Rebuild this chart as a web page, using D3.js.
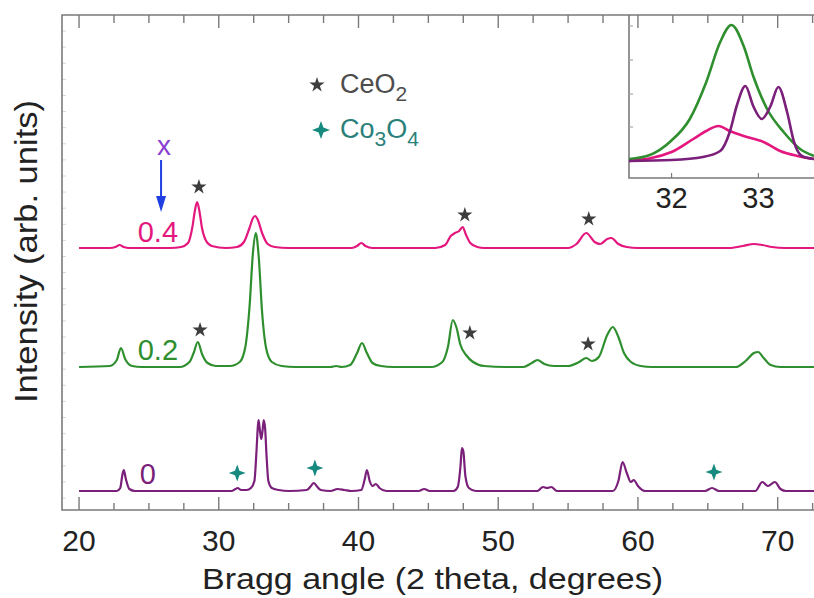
<!DOCTYPE html>
<html>
<head>
<meta charset="utf-8">
<script src="https://cdn.jsdelivr.net/npm/d3@7/dist/d3.min.js"></script>
<style>
  html, body { margin: 0; padding: 0; background: #fff; }
  svg { display: block; font-family: "Liberation Sans", Arial, sans-serif; }
</style>
</head>
<body>
<svg id="chart" width="814" height="598"></svg>
<script>
// XRD patterns: [2 theta (deg), intensity above each pattern's own baseline]
const pattern04 = [
  [20,0],[22.2,0],[22.6,1],[22.9,3],[23.2,1],[23.6,0],[26.5,0],[27.3,1],[27.8,5],[28.1,20],[28.3,38],[28.45,46],
  [28.6,38],[28.8,20],[29.1,7],[29.5,2],[30.5,0],[31.3,1],[31.8,6],[32.2,20],[32.45,30],[32.6,32],[32.8,28],
  [33.1,15],[33.5,4],[34.0,1],[35,0],[39.5,0],[39.9,2],[40.2,5],[40.5,2],[41,0],[45.5,0],[46.2,3],[46.6,12],
  [46.9,15],[47.2,17],[47.45,21],[47.7,13],[48,5],[48.5,1],[49,0],[55,0],[55.6,4],[56.3,15],[56.9,6],[57.3,4],
  [57.8,9],[58.1,10],[58.6,4],[59.2,1],[60,0],[66.5,0],[67.5,2],[68.3,4],[68.9,3],[69.6,1],[70.5,0],[72.6,0]
];
const pattern02 = [
  [20,0],[22.2,1],[22.7,7],[23.0,19],[23.3,8],[23.8,1],[24.5,0],[27.2,0],[27.9,5],[28.2,14],[28.5,25],[28.8,13],
  [29.2,4],[29.8,1],[30.8,1],[31.5,5],[31.9,20],[32.2,60],[32.45,115],[32.65,134],[32.85,112],[33.1,55],[33.4,18],
  [33.8,5],[34.5,1],[35.5,0],[38.0,0],[38.4,1],[38.8,0],[39.4,2],[39.9,14],[40.25,24],[40.6,14],[41.0,4],[41.6,1],
  [42.5,0],[45.2,0],[46.0,5],[46.4,20],[46.75,47],[47.0,40],[47.3,22],[47.7,12],[48.2,5],[49,1],[50.5,0],[51.8,0],
  [52.4,4],[52.8,7],[53.3,3],[54,1],[55,1],[55.8,5],[56.3,9],[56.7,6],[57.2,10],[57.8,32],[58.2,40],[58.6,30],
  [59.0,14],[59.5,5],[60.2,1],[61,0],[67,0],[67.7,6],[68.3,14],[68.6,15],[69,9],[69.5,2],[70.2,0],[72.6,0]
];
const pattern0 = [
  [20,0],[22.7,0],[22.95,3],[23.1,16],[23.2,21],[23.35,12],[23.6,2],[24,0],[30.9,0],[31.2,2],[31.35,3],[31.6,1],
  [32.0,1],[32.3,3],[32.55,10],[32.7,40],[32.8,65],[32.85,71],[32.95,60],[33.04,52],[33.13,60],[33.22,71],
  [33.32,62],[33.42,35],[33.55,10],[33.8,3],[34.3,1],[35,0],[36.3,1],[36.6,5],[36.8,8],[37.0,5],[37.3,1],[38.0,0],
  [38.5,2],[39.0,1],[39.5,0],[40.2,1],[40.45,12],[40.6,21],[40.8,10],[41.0,5],[41.25,7],[41.5,3],[42,0],[44.3,0],
  [44.7,2],[45.1,0],[46.8,0],[47.1,4],[47.3,25],[47.4,43],[47.5,40],[47.65,15],[47.9,3],[48.4,0],[52.8,0],
  [53.2,4],[53.5,3],[53.8,4],[54.2,0],[58.2,0],[58.6,10],[58.9,29],[59.2,18],[59.5,9],[59.7,11],[60.0,5],[60.5,0],
  [64.8,0],[65.3,3],[65.8,0],[68.4,0],[68.9,9],[69.3,5],[69.8,9],[70.2,2],[70.6,0],[72.6,0]
];

// Vertical offsets of the stacked patterns
const seriesNames = ["0.4", "0.2", "0"];
const seriesOffsets = [243, 124, 0];
const seriesColors = ["#e3177d", "#2f8f2f", "#7a1f7a"];
const seriesData = [pattern04, pattern02, pattern0];
// label anchor: [2 theta, intensity level of baseline]
const seriesLabelPos = [[24.2, 249], [24.2, 131], [24.35, 7]];

// Phase markers: [2 theta, absolute intensity level]
const ceo2Marks = [[28.58, 304], [47.61, 276], [56.48, 272], [28.66, 161], [47.97, 158], [56.43, 147]];
const co3o4Marks = [[31.32, 18], [36.88, 23], [65.44, 19]];

// Composition arrow: [2 theta, top level, tip level]
const arrowMark = [25.87, 331, 279];

// Main x-axis ticks
const xMajorTicks = [20, 30, 40, 50, 60, 70];
const xMinorTicks = [22.5, 25, 27.5, 32.5, 35, 37.5, 42.5, 45, 47.5, 52.5, 55, 57.5, 62.5, 65, 67.5, 72.5];

// Inset: zoom on the strongest reflection
const insetGreen = [[31.51,19],[31.75,23],[31.98,36],[32.21,59],[32.4,96],[32.56,136],[32.69,153],[32.83,132],
  [32.94,102],[33.1,69],[33.29,46],[33.48,29],[33.64,22]];
const insetPink = [[31.51,17],[32.0,26],[32.25,39],[32.4,47],[32.54,52],[32.67,47],[32.83,42],[33.06,36],
  [33.25,27],[33.45,22],[33.64,19]];
const insetPurple = [[31.51,17],[32.0,18],[32.36,21],[32.56,27],[32.67,46],[32.75,72],[32.85,92],[32.94,72],
  [33.04,59],[33.14,72],[33.23,91],[33.33,66],[33.41,36],[33.5,22],[33.64,19]];
const insetXTicks = [32, 33];
const insetYTicks = [17, 51, 84, 118, 152];

const svg = d3.select("#chart");
const W = 814, H = 598;
const plot = { left: 62, right: 814, top: 15, bottom: 510 };

const x = d3.scaleLinear().domain([18.78, 72.6]).range([plot.left, plot.right]);
const y = d3.scaleLinear().domain([-19, 476]).range([plot.bottom, plot.top]);

svg.append("rect").attr("width", W).attr("height", H).attr("fill", "#fff");

svg.append("defs").append("clipPath").attr("id", "plotClip")
  .append("rect").attr("x", plot.left).attr("y", plot.top)
  .attr("width", plot.right - plot.left).attr("height", plot.bottom - plot.top);

const frameColor = "#7a7a7a";

// faint unlabeled intensity ticks
const yFaintTicks = d3.range(-7, 470, 16.1);
svg.append("g").selectAll("line").data(yFaintTicks).join("line")
  .attr("x1", plot.left).attr("x2", plot.left + 4)
  .attr("y1", d => y(d)).attr("y2", d => y(d))
  .attr("stroke", "#d8d8d8").attr("stroke-width", 1);

// frame
svg.append("path")
  .attr("d", `M${plot.right},${plot.top}H${plot.left}V${plot.bottom}H${plot.right}`)
  .attr("fill", "none").attr("stroke", frameColor).attr("stroke-width", 1.6);

// bottom & top ticks (inward)
const tickG = svg.append("g").attr("stroke", frameColor).attr("stroke-width", 1.4);
xMajorTicks.forEach(t => {
  tickG.append("line").attr("x1", x(t)).attr("x2", x(t)).attr("y1", plot.bottom).attr("y2", plot.bottom - 13);
  tickG.append("line").attr("x1", x(t)).attr("x2", x(t)).attr("y1", plot.top).attr("y2", plot.top + 13);
});
xMinorTicks.forEach(t => {
  tickG.append("line").attr("x1", x(t)).attr("x2", x(t)).attr("y1", plot.bottom).attr("y2", plot.bottom - 7);
  tickG.append("line").attr("x1", x(t)).attr("x2", x(t)).attr("y1", plot.top).attr("y2", plot.top + 8);
});

// tick labels
svg.append("g").selectAll("text").data(xMajorTicks).join("text")
  .attr("x", d => x(d)).attr("y", 551)
  .attr("text-anchor", "middle").attr("font-size", 30).attr("fill", "#222")
  .text(d => d);

// axis titles
svg.append("text")
  .attr("x", 202).attr("y", 589)
  .attr("font-size", 30).attr("fill", "#222")
  .attr("textLength", 461).attr("lengthAdjust", "spacingAndGlyphs")
  .text("Bragg angle (2 theta, degrees)");

svg.append("text")
  .attr("transform", "translate(37,403) rotate(-90)")
  .attr("font-size", 31).attr("fill", "#222")
  .attr("textLength", 303).attr("lengthAdjust", "spacingAndGlyphs")
  .text("Intensity (arb. units)");

// patterns
const line = d3.line().curve(d3.curveMonotoneX);
const curveG = svg.append("g").attr("clip-path", "url(#plotClip)");
seriesData.forEach((data, i) => {
  curveG.append("path")
    .attr("d", line(data.map(d => [x(d[0]), y(d[1] + seriesOffsets[i])])))
    .attr("fill", "none").attr("stroke", seriesColors[i])
    .attr("stroke-width", 2.2).attr("stroke-linejoin", "round");
});

// pattern labels
svg.append("g").selectAll("text").data(seriesNames).join("text")
  .attr("x", (d, i) => x(seriesLabelPos[i][0]))
  .attr("y", (d, i) => y(seriesLabelPos[i][1]))
  .attr("font-size", 29).attr("fill", (d, i) => seriesColors[i])
  .text(d => d);

// CeO2 stars
const star = d3.symbol().type(d3.symbolStar).size(72);
svg.append("g").selectAll("path").data(ceo2Marks).join("path")
  .attr("transform", d => `translate(${x(d[0])},${y(d[1])})`)
  .attr("d", star()).attr("fill", "#3d3d3d");

// four-pointed marker for Co3O4
function fourStar(R, r) {
  const pts = [];
  for (let k = 0; k < 8; k++) {
    const a = -Math.PI / 2 + k * Math.PI / 4;
    const rr = k % 2 === 0 ? R : r;
    pts.push([rr * Math.cos(a), rr * Math.sin(a)]);
  }
  return "M" + pts.map(p => p.join(",")).join("L") + "Z";
}
const teal = "#178a7f";
svg.append("g").selectAll("path").data(co3o4Marks).join("path")
  .attr("transform", d => `translate(${x(d[0])},${y(d[1])})`)
  .attr("d", fourStar(8.5, 3.2)).attr("fill", teal);

// composition arrow
svg.append("line")
  .attr("x1", x(arrowMark[0])).attr("x2", x(arrowMark[0]))
  .attr("y1", y(arrowMark[1])).attr("y2", y(arrowMark[2]) - 12)
  .attr("stroke", "#1f3fe0").attr("stroke-width", 2);
svg.append("path")
  .attr("d", `M${x(arrowMark[0]) - 5},${y(arrowMark[2]) - 16}L${x(arrowMark[0]) + 5},${y(arrowMark[2]) - 16}L${x(arrowMark[0])},${y(arrowMark[2])}Z`)
  .attr("fill", "#1f3fe0");
svg.append("text")
  .attr("x", x(arrowMark[0]) + 3).attr("y", y(arrowMark[1]) - 5)
  .attr("text-anchor", "middle").attr("font-size", 28).attr("fill", "#8a3fd0")
  .text("x");

// legend
const leg = svg.append("g");
leg.append("path").attr("transform", "translate(317,85)").attr("d", star()).attr("fill", "#3d3d3d");
const t1 = leg.append("text").attr("x", 340).attr("y", 93).attr("font-size", 27).attr("fill", "#4d4d4d");
t1.append("tspan").text("CeO");
t1.append("tspan").attr("dy", 8).attr("font-size", 21).text("2");
leg.append("path").attr("transform", "translate(321,130)").attr("d", fourStar(9, 3.4)).attr("fill", teal);
const t2 = leg.append("text").attr("x", 340).attr("y", 138).attr("font-size", 27).attr("fill", "#2a7f7a");
t2.append("tspan").text("Co");
t2.append("tspan").attr("dy", 8).attr("font-size", 21).text("3");
t2.append("tspan").attr("dy", -8).text("O");
t2.append("tspan").attr("dy", 8).attr("font-size", 21).text("4");

// inset
const inset = { left: 629, right: 814, top: 15, bottom: 178 };
const ix = d3.scaleLinear().domain([31.51, 33.64]).range([inset.left, inset.right]);
const iy = d3.scaleLinear().domain([0, 163]).range([inset.bottom, inset.top]);

svg.append("defs").append("clipPath").attr("id", "insetClip")
  .append("rect").attr("x", inset.left).attr("y", inset.top)
  .attr("width", inset.right - inset.left).attr("height", inset.bottom - inset.top);

svg.append("path")
  .attr("d", `M${inset.left},${inset.top}V${inset.bottom}H${inset.right}`)
  .attr("fill", "none").attr("stroke", frameColor).attr("stroke-width", 1.6);

const itG = svg.append("g").attr("stroke", frameColor).attr("stroke-width", 1.2);
insetXTicks.forEach(t => {
  itG.append("line").attr("x1", ix(t)).attr("x2", ix(t)).attr("y1", inset.bottom).attr("y2", inset.bottom - 5);
});
insetYTicks.forEach(t => {
  itG.append("line").attr("x1", inset.left).attr("x2", inset.left + 4).attr("y1", iy(t)).attr("y2", iy(t))
    .attr("stroke", "#aaa");
});

svg.append("g").selectAll("text").data(insetXTicks).join("text")
  .attr("x", d => ix(d)).attr("y", 208)
  .attr("text-anchor", "middle").attr("font-size", 29).attr("fill", "#222")
  .text(d => d);

const insetG = svg.append("g").attr("clip-path", "url(#insetClip)");
[[insetPink, seriesColors[0]], [insetGreen, seriesColors[1]], [insetPurple, seriesColors[2]]].forEach(([data, c]) => {
  insetG.append("path")
    .attr("d", d3.line().curve(d3.curveMonotoneX)(data.map(d => [ix(d[0]), iy(d[1])])))
    .attr("fill", "none").attr("stroke", c).attr("stroke-width", 2.6);
});
</script>
</body>
</html>
